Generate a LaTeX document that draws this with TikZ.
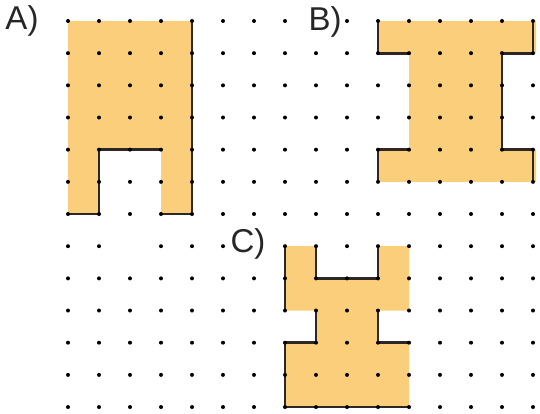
\documentclass[tikz,border=0pt]{standalone}
\usepackage{fontspec}
\setmainfont{Liberation Sans}
\definecolor{shapefill}{RGB}{251,206,124}
\definecolor{edgecol}{RGB}{45,40,35}
\tikzset{
  shapebody/.style={fill=shapefill, draw=none},
  shadowedge/.style={draw=edgecol, line width=2.8pt, line cap=rect, line join=miter},
  griddot/.style={fill=black, draw=none},
  partlabel/.style={font=\fontsize{33}{33}\selectfont, inner sep=0pt, text=black!85}
}
\begin{document}
\begin{tikzpicture}[x=31pt, y=-32.17pt]
\useasboundingbox (-68/31, -21/32.17) rectangle ({(540-68)/31}, {(414-21)/32.17});
\fill[white] (-68/31, -21/32.17) rectangle ({(540-68)/31}, {(414-21)/32.17});
% shape A
\path[shapebody] (0,0) -- (4,0) -- (4,6) -- (3,6) -- (3,4) -- (1,4) -- (1,6) -- (0,6) -- cycle;
\draw[shadowedge] (4,0) -- (4,6);
\draw[shadowedge] (0,6) -- (1,6) -- (1,4) -- (3,4);
\draw[shadowedge] (3,6) -- (4,6);
% shape B
\path[shapebody] (10,0) -- (15.1,0) -- (15.1,1) -- (14,1) -- (14,4) -- (15.1,4) -- (15.1,5) -- (10,5) -- (10,4) -- (11,4) -- (11,1) -- (10,1) -- cycle;
\draw[shadowedge] (10,0) -- (10,1) -- (11,1);
\draw[shadowedge] (15,0) -- (15,1) -- (14,1) -- (14,4) -- (15,4) -- (15,5);
\draw[shadowedge] (11,4) -- (10,4) -- (10,5);
% shape C
\path[shapebody] (7,7) -- (8,7) -- (8,8) -- (10,8) -- (10,7) -- (11,7) -- (11,9) -- (10,9) -- (10,10) -- (11,10) -- (11,12) -- (7,12) -- (7,10) -- (8,10) -- (8,9) -- (7,9) -- cycle;
\draw[shadowedge] (7,7) -- (7,9);
\draw[shadowedge] (8,7) -- (8,8) -- (10,8) -- (10,7);
\draw[shadowedge] (8,9) -- (8,10) -- (7,10) -- (7,12) -- (11,12);
\draw[shadowedge] (10,9) -- (10,10) -- (11,10);
% dot grid
\foreach \i in {0,...,15} {
  \foreach \j in {0,...,12} {
    \ifnum\i=2 \ifnum\j=7 \else \fill[griddot] (\i,\j) circle (2pt);\fi
    \else \fill[griddot] (\i,\j) circle (2pt);\fi
  }
}
% labels
\node[partlabel] (labA) at (-46/31, 0) {A)};
\node[partlabel, fill=white] (labB) at ({(325-68)/31}, 1/32.17) {B)};
\node[partlabel, fill=white] (labC) at ({(248-68)/31}, {(244-21)/32.17}) {C)};
\end{tikzpicture}
\end{document}
